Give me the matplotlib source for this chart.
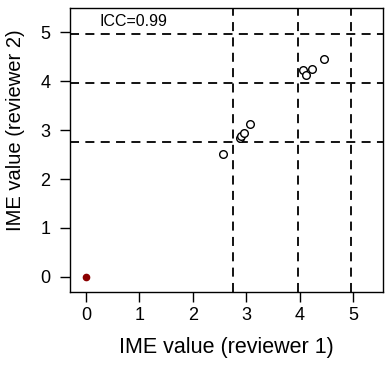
import matplotlib
matplotlib.use("Agg")
import matplotlib.pyplot as plt

plt.rcParams['font.family'] = ['Liberation Sans', 'DejaVu Sans']

# reviewer 1 vs reviewer 2 IME values
rev1 = [2.57, 2.88, 2.90, 2.95, 3.07, 4.07, 4.11, 4.23, 4.46]
rev2 = [2.51, 2.85, 2.88, 2.94, 3.12, 4.23, 4.13, 4.26, 4.45]
zero_x = [0]
zero_y = [0]
cutoffs = [2.76, 3.96, 4.97]
ticks = [0, 1, 2, 3, 4, 5]
icc_text = "ICC=0.99"

fig = plt.figure(figsize=(3.9, 3.7), dpi=100)
ax = fig.add_axes([70/390, 78/370, 313/390, 284/370])

for c in cutoffs:
    ax.axvline(c, color='black', lw=1.3, ls=(0, (5, 3.5)))
    ax.axhline(c, color='black', lw=1.3, ls=(0, (5, 3.5)))

ax.plot(rev1, rev2, 'o', mfc='white', mec='black', ms=5.5, mew=1.0, zorder=3)
ax.plot(zero_x, zero_y, 'o', color='#8b0000', ms=4.5, zorder=3)

ax.text(0.26, 5.23, icc_text, fontsize=11.5, va='center', ha='left')

ax.set_xlim(-0.3, 5.56)
ax.set_ylim(-0.31, 5.5)
ax.set_xticks(ticks)
ax.set_yticks(ticks)
ax.tick_params(direction='out', length=7, width=1, labelsize=13)
ax.tick_params(axis='x', pad=4)
ax.tick_params(axis='y', pad=7)
ax.set_xlabel("IME value (reviewer 1)", fontsize=15.5, labelpad=9)
ax.set_ylabel("IME value (reviewer 2)", fontsize=14.5)
ax.yaxis.set_label_coords(-0.145, 0.57)
for s in ax.spines.values():
    s.set_linewidth(1)

fig.savefig("out.png", dpi=100)
